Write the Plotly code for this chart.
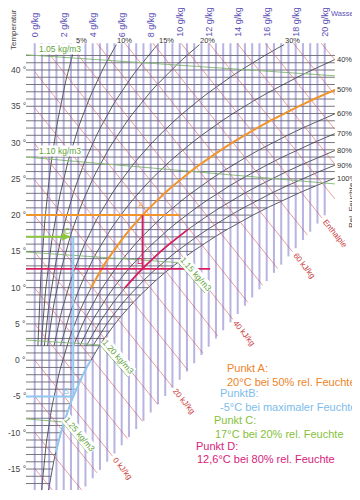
import math
import numpy as np
import plotly.graph_objects as go

# ---------------- data ----------------
P_CHART_KPA = 99.0                      # pressure the chart is drawn for
SAT_T = list(range(-18, 47))            # °C
SAT_P_KPA = [0.1497, 0.1627, 0.1768, 0.1916, 0.2080, 0.2254, 0.2441, 0.2644, 0.2863, 0.3099,
             0.3350, 0.3619, 0.3906, 0.4215, 0.4546, 0.4900, 0.5275, 0.5679, 0.6112, 0.6571,
             0.7060, 0.7581, 0.8135, 0.8726, 0.9353, 1.0021, 1.0729, 1.1481, 1.2281, 1.3128,
             1.4027, 1.4979, 1.5989, 1.7057, 1.8188, 1.9383, 2.0647, 2.1982, 2.3392, 2.4881,
             2.6452, 2.8109, 2.9856, 3.1697, 3.3637, 3.5679, 3.7828, 4.0089, 4.2467, 4.4966,
             4.7592, 5.0351, 5.3247, 5.6287, 5.9479, 6.2828, 6.6336, 7.0009, 7.3849, 7.7878,
             8.2096, 8.6503, 9.1124, 9.5898, 10.0860]

RH_LEVELS = [5, 10, 15, 20, 30, 40, 50, 60, 70, 80, 90, 100]
RH_TOP_LABELS = [5, 10, 15, 20, 30]
RH_RIGHT_LABELS = [40, 50, 60, 70, 80, 90, 100]
RH_LOW_START = {50: -17.9, 100: -17.9}   # curves drawn below the default start

X_TICKS = list(range(0, 21, 2))
X_TICK_TEXT = [f"{v} g/kg" for v in X_TICKS]
Y_TICKS = list(range(-15, 41, 5))
Y_TICK_TEXT = [f"{v} °" for v in Y_TICKS]

X_GRID = [i * 0.5 for i in range(41)]          # g/kg
T_GRID = list(range(-17, 43))                  # °C

ENTHALPY_VALUES = list(range(-15, 100, 5))     # kJ/kg
ENTHALPY_LABELS = {0: "0 kJ/kg", 20: "20 kJ/kg", 40: "40 kJ/kg", 60: "60 kJ/kg", 70: "Enthalpie"}

DENSITY_NAMES = ["1.05 kg/m3", "1.10 kg/m3", "1.15 kg/m3", "1.20 kg/m3", "1.25 kg/m3"]
DENSITY_X = [[-0.6, 20.7], [-0.6, 20.7], [-0.6, 9.88, 11.74], [-0.6, 4.5, 6.43], [-0.6, 1.88, 3.68]]
DENSITY_T = [[42.1, 39.2], [28.0, 24.3], [14.9, 13.46, 9.26], [2.78, 2.1, -2.3], [-8.1, -8.5, -12.8]]

FOG_EDGE_X = [4.5, 20.02]       # lower end of the water-content lines
FOG_EDGE_T = [-15.13, 20.01]

POINT_NAMES = ["A", "B", "C", "D"]
POINT_T = [20.0, -5.0, 17.0, 12.6]
POINT_RH = [50, 100, 20, 80]
A_ISO_END = 10.0        # g/kg where the orange 20 °C line stops
D_ISO_END = 12.1        # g/kg where the crimson 12.6 °C line stops
A_CURVE_T = [10.0, 43.5]
D_CURVE_T = [10.0, 18.0]
B_CURVE_T = [-12.7, 0.0]

LEGEND_TEXT = ["Punkt A:", "20°C bei 50% rel. Feuchte", "PunktB:", "-5°C bei maximaler Feuchte",
               "Punkt C:", "17°C bei 20% rel. Feuchte", "Punkt D:", "12,6°C bei 80% rel. Feuchte"]

# ---------------- frame / style ----------------
PAGE_OFFSET = 8                       # default page margin around the plot div
W, H = 360 - PAGE_OFFSET, 500 - PAGE_OFFSET
SX, SY = 14.5, 7.255                  # px per g/kg, px per °C
REF_X0, REF_Y1 = -34.7 / 14.5, 49.649  # data value at the window's left / top edge
X_RANGE = [REF_X0 + PAGE_OFFSET / SX, REF_X0 + 360 / SX]
Y_RANGE = [REF_Y1 - 500 / SY, REF_Y1 - PAGE_OFFSET / SY]
X_LEFT, X_EDGE = -0.6, 20.7
T_TOP, T_BOT, T_RH_TOP, T_RH_BOT = 43.7, -17.9, 43.5, 2.0
FONT = "Liberation Sans, Arial, sans-serif"

ORANGE, CRIMSON, BLUE, LIME = "#f2962c", "#d81e5e", "#92c8f0", "#8dc63f"
PT_COL = {"A": ORANGE, "B": BLUE, "C": LIME, "D": CRIMSON}
TXT_COL = {"A": "#ee8429", "B": "#7dbcec", "C": "#86bf3a", "D": "#d5237c"}


def to_px(x, t):
    return (x - REF_X0) * SX, (REF_Y1 - t) * SY


def to_data(px, py):
    return REF_X0 + px / SX, REF_Y1 - py / SY


def psat(t):
    return np.interp(t, SAT_T, SAT_P_KPA)


def x_of(t, rh):
    pv = rh / 100.0 * psat(t)
    return 622.0 * pv / (P_CHART_KPA - pv)


def t_at_x(xg, rh):
    pv = P_CHART_KPA * xg / (622.0 + xg)
    return float(np.interp(pv * 100.0 / rh, SAT_P_KPA, SAT_T))


def fog_edge(x):
    k = (FOG_EDGE_T[1] - FOG_EDGE_T[0]) / (FOG_EDGE_X[1] - FOG_EDGE_X[0])
    return FOG_EDGE_T[0] + (np.asarray(x) - FOG_EDGE_X[0]) * k


def rh_curve(rh, t0, t1):
    t_hi = min(t1, t_at_x(X_EDGE, rh))
    ts = [t0] + [t for t in SAT_T if t0 < t < t_hi] + [t_hi]
    return [float(x_of(t, rh)) for t in ts], ts


fig = go.Figure()


def add_lines(segs, color, width, opacity=1.0):
    X, Y = [], []
    for xs, ys in segs:
        X += list(xs) + [None]
        Y += list(ys) + [None]
    fig.add_trace(go.Scatter(x=X, y=Y, mode="lines", opacity=opacity,
                             line=dict(color=color, width=width), hoverinfo="skip"))


ann = []


def label(x, y, text, color, size, **kw):
    d = dict(x=x, y=y, xref="x", yref="y", text=text, showarrow=False,
             font=dict(family=FONT, size=size, color=color))
    d.update(kw)
    ann.append(d)


# horizontal isotherms
add_lines([([X_LEFT, min(float(x_of(t, 100)), X_EDGE)], [t, t]) for t in T_GRID], "#555555", 0.8)

# relative humidity curves
rh_ends = {}
segs = []
for rh in RH_LEVELS:
    xs, ts = rh_curve(rh, RH_LOW_START.get(rh, T_RH_BOT), T_RH_TOP)
    segs.append((xs, ts))
    rh_ends[rh] = (xs[-1], ts[-1])
add_lines(segs, "#333333", 0.8)

# enthalpy lines
xs_s = np.linspace(0, X_EDGE, 2071)
segs, ends = [], {}
for h in ENTHALPY_VALUES:
    tt = (h - 2.501 * xs_s) / (1.006 + 0.00186 * xs_s)
    lo = np.maximum(T_BOT, fog_edge(xs_s))
    m = np.where((tt <= T_TOP) & (tt >= lo))[0]
    if len(m) < 2:
        continue
    seg = ([xs_s[m[0]], xs_s[m[-1]]], [tt[m[0]], tt[m[-1]]])
    segs.append(seg)
    ends[h] = seg
add_lines(segs, "#e06a66", 0.65)

for h, txt in ENTHALPY_LABELS.items():
    (x0, x1), (t0, t1) = ends[h]
    p0, p1 = to_px(x0, t0), to_px(x1, t1)
    dx, dy = p1[0] - p0[0], p1[1] - p0[1]
    n = math.hypot(dx, dy)
    ux, uy = dx / n, dy / n
    dist = 2.5 + 3.9 * len(txt) / 2
    cx, cy = to_data(p1[0] + ux * dist, p1[1] + uy * dist)
    label(cx, cy, txt, "#c9383a", 8, textangle=math.degrees(math.atan2(dy, dx)))

# density lines
add_lines(list(zip(DENSITY_X, DENSITY_T)), "#8cc474", 1.0)
for name, xs, ts in zip(DENSITY_NAMES, DENSITY_X, DENSITY_T):
    if len(xs) == 2:
        tl = float(np.interp(0.2, xs, ts))
        label(0.2, tl, name, "#5fa33c", 8.5, xanchor="left", yanchor="bottom", yshift=1,
              bgcolor="white", borderpad=0)
    else:
        p0, p1 = to_px(xs[1], ts[1]), to_px(xs[2], ts[2])
        dx, dy = p1[0] - p0[0], p1[1] - p0[1]
        n = math.hypot(dx, dy)
        mx, my = (p0[0] + p1[0]) / 2, (p0[1] + p1[1]) / 2
        cx, cy = to_data(mx + 6 * dy / n, my - 6 * dx / n)
        label(cx, cy, name, "#5fa33c", 8.5, textangle=math.degrees(math.atan2(dy, dx)),
              bgcolor="white", borderpad=0)

# water-content lines (purple, on top)
add_lines([([xg, xg], [max(T_BOT, float(fog_edge(xg))), T_TOP]) for xg in X_GRID],
          "rgb(100,90,190)", 2.0, opacity=0.45)

# ---------------- state points ----------------
P = {n: (float(x_of(t, rh)), t) for n, t, rh in zip(POINT_NAMES, POINT_T, POINT_RH)}
xA, tA = P["A"]
xB, tB = P["B"]
xC, tC = P["C"]
xD, tD = P["D"]

add_lines([([X_LEFT, A_ISO_END], [tA, tA]), rh_curve(50, *A_CURVE_T)], ORANGE, 2.0)
add_lines([([xA, xA], [tA, tD]), ([X_LEFT, D_ISO_END], [tD, tD]), rh_curve(80, *D_CURVE_T)], CRIMSON, 1.8)
add_lines([([X_LEFT, xB], [tB, tB]), ([xB, xB], [tB, tC]), rh_curve(100, *B_CURVE_T)], BLUE, 2.0)
add_lines([([X_LEFT, xC], [tC, tC])], LIME, 2.0)
ann.append(dict(x=xC, y=tC, ax=xC - 1.0, ay=tC, xref="x", yref="y", axref="x", ayref="y",
                text="", showarrow=True, arrowhead=2, arrowsize=1, arrowwidth=1.6, arrowcolor=LIME))

LETTER_OFFSETS = {"A": (-2, -10), "B": (-7, -5), "C": (-3, -6), "D": (-2, -8)}
for n in POINT_NAMES:
    px, py = to_px(*P[n])
    ox, oy = LETTER_OFFSETS[n]
    cx, cy = to_data(px + ox, py + oy)
    label(cx, cy, n, PT_COL[n], 9)

LEGEND_POS = [(225, 368), (225, 382), (218, 393), (218, 407), (212, 420), (213, 434), (194, 446), (195, 459)]
for i, (txt, (px, py)) in enumerate(zip(LEGEND_TEXT, LEGEND_POS)):
    cx, cy = to_data(px, py)
    label(cx, cy, txt, TXT_COL[POINT_NAMES[i // 2]], 11, xanchor="left", yanchor="middle")

# ---------------- labels ----------------
for rh in RH_TOP_LABELS:
    x, t = rh_ends[rh]
    label(x, t, f"{rh}%", "#333333", 7.5, xanchor="left", yanchor="bottom", xshift=-1, yshift=-2)
for rh in RH_RIGHT_LABELS:
    x, t = rh_ends[rh]
    label(x, t, f"{rh}%", "#333333", 7.5, xanchor="left", yanchor="middle", xshift=1, borderpad=0)

_, t_xt = to_data(0, 38)
for v, txt in zip(X_TICKS, X_TICK_TEXT):
    label(v, t_xt, txt, "#5a4fb6", 9, textangle=-90, yanchor="bottom", xanchor="center",
          borderpad=0)
x_yt, _ = to_data(26.5, 0)
for v, txt in zip(Y_TICKS, Y_TICK_TEXT):
    label(x_yt, v, txt, "#444444", 8.5, xanchor="right", yanchor="middle", borderpad=0)

cx, cy = to_data(13, 30)
label(cx, cy, "Temperatur", "#444444", 8, textangle=-90, borderpad=0)
cx, cy = to_data(344, 13)
label(cx, cy, "Wasser", "#5a4fb6", 7.5, borderpad=0)
cx, cy = to_data(351, 205)
label(cx, cy, "Rel. Feuchte", "#444444", 8, textangle=-90, borderpad=0)

fig.update_layout(width=W, height=H, margin=dict(l=0, r=0, t=0, b=0),
                  paper_bgcolor="white", plot_bgcolor="white", showlegend=False,
                  annotations=ann, font=dict(family=FONT))
fig.update_xaxes(visible=False, range=X_RANGE, fixedrange=True)
fig.update_yaxes(visible=False, range=Y_RANGE, fixedrange=True)
fig.write_html("out.html")
